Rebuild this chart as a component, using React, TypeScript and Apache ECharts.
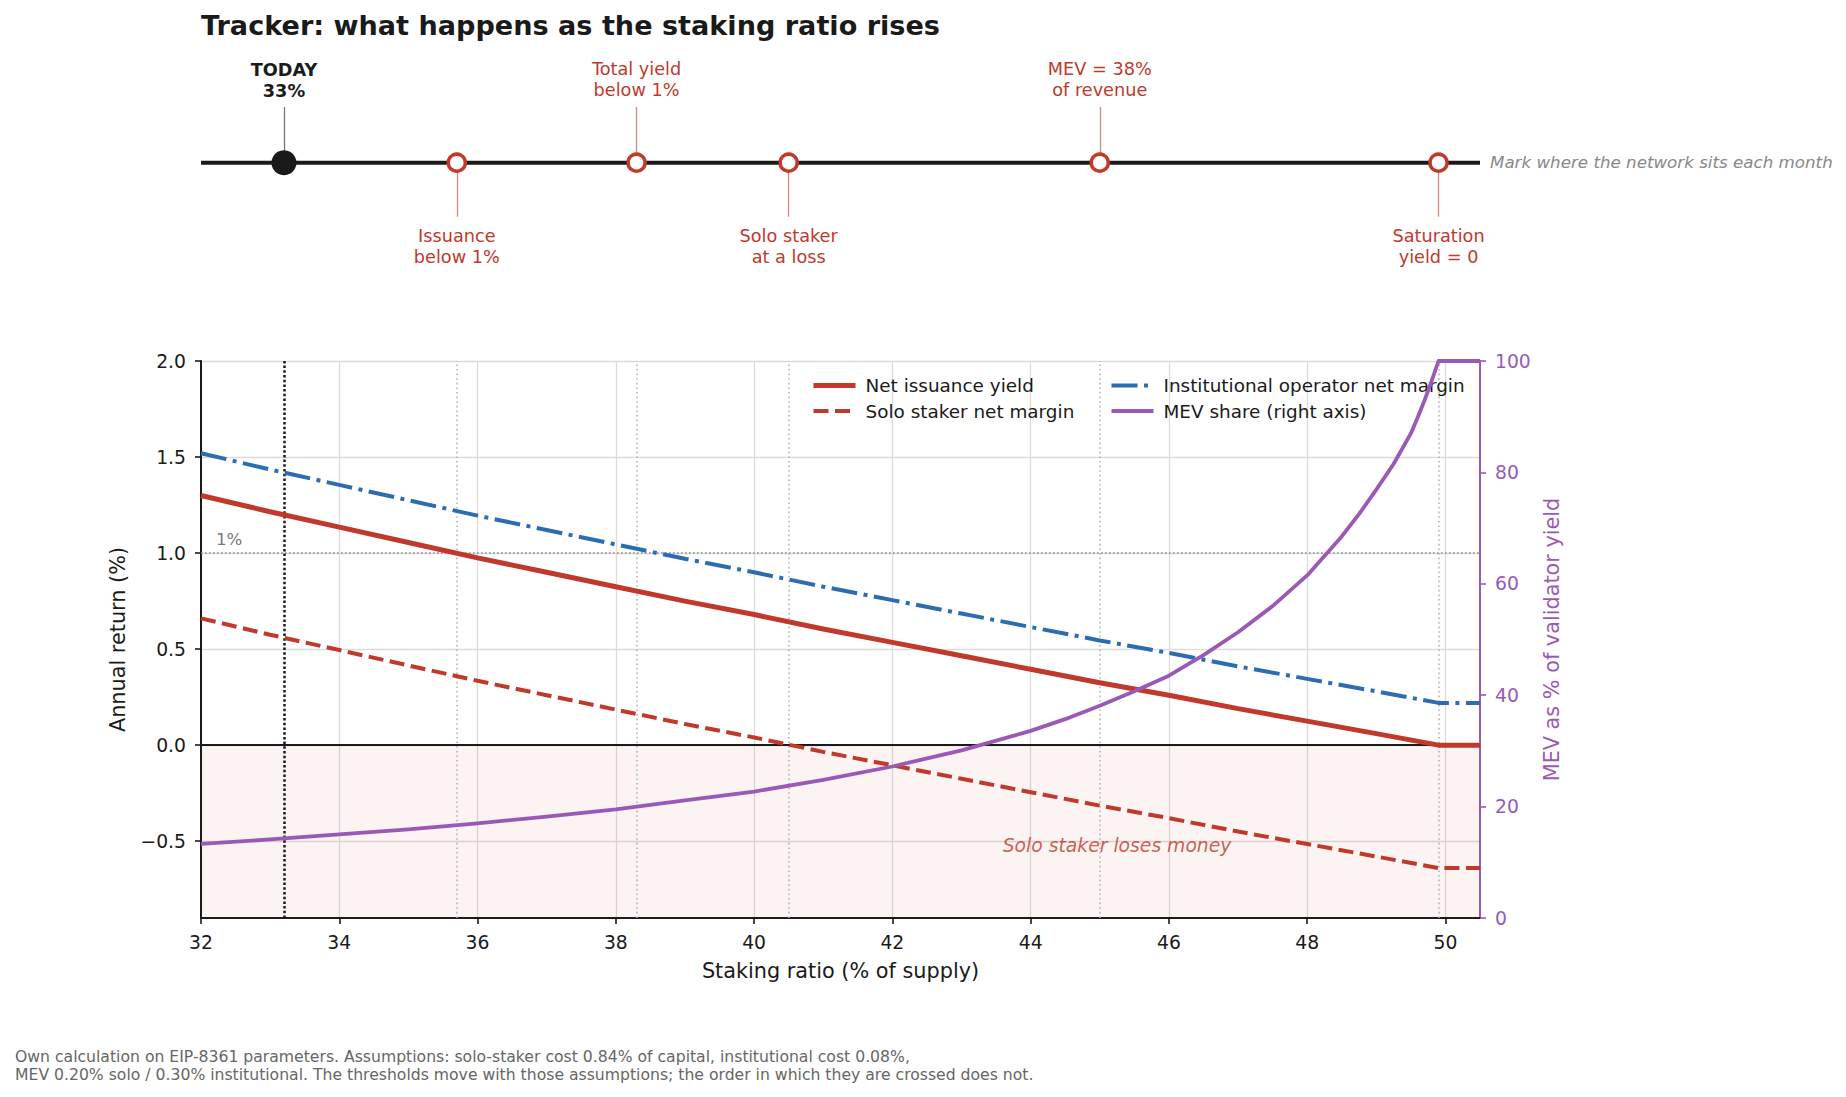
import React, { useEffect, useRef } from "react";
import * as echarts from "echarts";

// ---- data ----
const ratioX = [32, 33, 34, 35, 36, 37, 38, 39, 40, 41, 42, 43, 44, 45, 46, 47, 48, 49, 49.9, 50.5];
const netIssuance = [1.30, 1.215, 1.135, 1.055, 0.975, 0.90, 0.825, 0.75, 0.68, 0.605, 0.535, 0.465, 0.395, 0.325, 0.26, 0.19, 0.125, 0.06, 0.0, 0.0];
const soloMargin = [0.66, 0.575, 0.495, 0.415, 0.335, 0.26, 0.185, 0.11, 0.04, -0.035, -0.105, -0.175, -0.245, -0.315, -0.38, -0.45, -0.515, -0.58, -0.64, -0.64];
const instMargin = [1.52, 1.435, 1.355, 1.275, 1.195, 1.12, 1.045, 0.97, 0.90, 0.825, 0.755, 0.685, 0.615, 0.545, 0.48, 0.41, 0.345, 0.28, 0.22, 0.22];
const mevX = [32, 33, 34, 35, 36, 37, 38, 39, 40, 41, 42, 43, 44, 44.5, 45, 45.5, 46, 46.5, 47, 47.5, 48, 48.25, 48.5, 48.75, 49, 49.25, 49.5, 49.6, 49.7, 49.8, 49.9, 50.5];
const mevShare = [13.3, 14.1, 15.0, 15.9, 17.0, 18.2, 19.5, 21.1, 22.7, 24.8, 27.2, 30.1, 33.6, 35.7, 38.1, 40.7, 43.5, 47.2, 51.3, 56.0, 61.5, 65.0, 68.5, 72.5, 76.9, 81.5, 87.0, 89.9, 93.0, 96.4, 100, 100];

const todayRatio = 33.2;
const todayLabel = "TODAY\n33%";
const thresholdX = [35.7, 38.3, 40.5, 45.0, 49.9];
const thresholdLabels = [
  "Issuance\nbelow 1%",
  "Total yield\nbelow 1%",
  "Solo staker\nat a loss",
  "MEV = 38%\nof revenue",
  "Saturation\nyield = 0",
];
const thresholdAbove = [false, true, false, true, false];

const xTicks = [32, 34, 36, 38, 40, 42, 44, 46, 48, 50];
const yLeftTicks = [-0.5, 0, 0.5, 1, 1.5, 2];
const yRightTicks = [0, 20, 40, 60, 80, 100];
const onePercentLevel = 1.0;
const lossNoteX = 45.25;
const lossNoteY = -0.52;

const seriesNames = [
  "Net issuance yield",
  "Solo staker net margin",
  "Institutional operator net margin",
  "MEV share (right axis)",
];

const titleText = "Tracker: what happens as the staking ratio rises";
const trackerNote = "Mark where the network sits each month";
const lossNote = "Solo staker loses money";
const footnote =
  "Own calculation on EIP-8361 parameters. Assumptions: solo-staker cost 0.84% of capital, institutional cost 0.08%,\nMEV 0.20% solo / 0.30% institutional. The thresholds move with those assumptions; the order in which they are crossed does not.";

// ---- styles ----
const RED = "#c0392b";
const BLUE = "#2b6cb3";
const PURPLE = "#9b59b6";
const INK = "#1a1a1a";
const FONT = "DejaVu Sans";

const zip = (xs: number[], ys: number[]) => xs.map((x, i) => [x, ys[i]]);

const legendBase = {
  orient: "vertical",
  top: 376.5,
  padding: 0,
  itemWidth: 42,
  itemHeight: 20,
  itemGap: 7.5,
  selectedMode: false,
  itemStyle: { color: "transparent", borderColor: "transparent", borderWidth: 0, opacity: 0 },
  lineStyle: { width: "inherit", type: "inherit", color: "inherit", cap: "butt" },
  textStyle: { fontFamily: FONT, fontSize: 18.4, color: INK, padding: [0, 0, 0, 5] },
};

export default function App() {
  const ref = useRef<HTMLDivElement>(null);

  useEffect(() => {
    if (!ref.current) return;
    const chart = echarts.init(ref.current, undefined, { renderer: "svg" });

    const verticalLines: any[] = [
      {
        xAxis: todayRatio,
        lineStyle: { color: INK, width: 2.5, type: [2.5, 2.2], cap: "butt" },
      },
      ...thresholdX.map((x) => ({
        xAxis: x,
        lineStyle: { color: "#b0b0b0", width: 1.5, type: [1.6, 3], cap: "butt" },
      })),
    ];

    const connectors: any[] = [
      [
        { coord: [todayRatio, 0] },
        { coord: [todayRatio, 0.557], lineStyle: { color: "#777", width: 1.3, type: "solid" } },
      ],
      ...thresholdX.map((x, i) => [
        { coord: [x, 0] },
        {
          coord: [x, thresholdAbove[i] ? 0.557 : -0.54],
          lineStyle: { color: "rgba(192,57,43,0.6)", width: 1.3, type: "solid" },
        },
      ]),
    ];

    const option: any = {
      animation: false,
      backgroundColor: "#ffffff",
      textStyle: { fontFamily: FONT },
      title: {
        text: titleText,
        left: 201,
        top: 12,
        padding: 0,
        textStyle: { fontFamily: FONT, fontSize: 27.1, fontWeight: "bold", color: INK },
      },
      legend: [
        { ...legendBase, data: [seriesNames[0], seriesNames[1]], left: 811 },
        { ...legendBase, data: [seriesNames[2], seriesNames[3]], left: 1109.5 },
      ],
      grid: [
        { left: 201, top: 361, width: 1279, height: 557, containLabel: false },
        { left: 201, top: 62.7, width: 1279, height: 200, containLabel: false },
      ],
      xAxis: [
        {
          type: "value",
          gridIndex: 0,
          min: 32,
          max: 50.5,
          name: "Staking ratio (% of supply)",
          nameLocation: "middle",
          nameGap: 42,
          nameTextStyle: { fontFamily: FONT, fontSize: 20.8, color: INK },
          axisLine: { show: true, onZero: false, lineStyle: { color: INK, width: 2 } },
          axisTick: { show: true, length: 6, lineStyle: { color: INK, width: 1.6 }, customValues: xTicks },
          axisLabel: {
            customValues: xTicks,
            fontFamily: FONT,
            fontSize: 18.75,
            color: INK,
            margin: 15,
            formatter: (v: number) => String(v),
          },
          splitLine: { show: true, lineStyle: { color: "#dcdcdc", width: 1.3 } },
        },
        {
          type: "value",
          gridIndex: 1,
          min: 32,
          max: 50.5,
          show: false,
        },
      ],
      yAxis: [
        {
          type: "value",
          gridIndex: 0,
          position: "left",
          min: -0.9,
          max: 2.0,
          name: "Annual return (%)",
          nameLocation: "middle",
          nameRotate: 90,
          nameGap: 73,
          nameTextStyle: { fontFamily: FONT, fontSize: 20.8, color: INK },
          axisLine: { show: true, onZero: false, lineStyle: { color: INK, width: 2 } },
          axisTick: { show: true, length: 6, lineStyle: { color: INK, width: 1.6 }, customValues: yLeftTicks },
          axisLabel: {
            customValues: yLeftTicks,
            fontFamily: FONT,
            fontSize: 18.75,
            color: INK,
            margin: 15,
            formatter: (v: number) => v.toFixed(1).replace("-", "\u2212"),
          },
          splitLine: { show: true, lineStyle: { color: "#dcdcdc", width: 1.3 } },
        },
        {
          type: "value",
          gridIndex: 0,
          position: "right",
          min: 0,
          max: 100,
          name: "MEV as % of validator yield",
          nameLocation: "middle",
          nameRotate: 90,
          nameGap: 60,
          nameTextStyle: { fontFamily: FONT, fontSize: 20.8, color: PURPLE },
          axisLine: { show: true, onZero: false, lineStyle: { color: PURPLE, width: 2 } },
          axisTick: { show: true, length: 6, lineStyle: { color: PURPLE, width: 1.6 }, customValues: yRightTicks },
          axisLabel: {
            customValues: yRightTicks,
            fontFamily: FONT,
            fontSize: 18.75,
            color: PURPLE,
            margin: 15,
          },
          splitLine: { show: false },
        },
        {
          type: "value",
          gridIndex: 1,
          min: -1,
          max: 1,
          show: false,
        },
      ],
      series: [
        {
          name: "_reference",
          type: "line",
          xAxisIndex: 0,
          yAxisIndex: 0,
          data: [],
          silent: true,
          markArea: {
            silent: true,
            z: 1,
            itemStyle: { color: "rgba(192,57,43,0.055)" },
            data: [[{ yAxis: -0.9 }, { yAxis: 0 }]],
          },
          markLine: {
            silent: true,
            z: 3,
            symbol: ["none", "none"],
            label: { show: false },
            data: [
              ...verticalLines,
              {
                yAxis: onePercentLevel,
                lineStyle: { color: "#8a8a8a", width: 1.6, type: [1.6, 2.4], cap: "butt" },
                label: {
                  show: true,
                  position: "insideStartTop",
                  formatter: "1%",
                  color: "#7a7a7a",
                  fontFamily: FONT,
                  fontSize: 16.7,
                  distance: [15, 6],
                },
              },
              {
                yAxis: 0,
                lineStyle: { color: INK, width: 2, type: "solid" },
              },
            ],
          },
        },
        {
          name: seriesNames[0],
          type: "line",
          xAxisIndex: 0,
          yAxisIndex: 0,
          data: zip(ratioX, netIssuance),
          symbol: "none",
          z: 6,
          itemStyle: { color: RED },
          lineStyle: { color: RED, width: 5 },
        },
        {
          name: seriesNames[1],
          type: "line",
          xAxisIndex: 0,
          yAxisIndex: 0,
          data: zip(ratioX, soloMargin),
          symbol: "none",
          z: 6,
          itemStyle: { color: RED },
          lineStyle: { color: RED, width: 4, type: [15, 6.5], cap: "butt" },
        },
        {
          name: seriesNames[2],
          type: "line",
          xAxisIndex: 0,
          yAxisIndex: 0,
          data: zip(ratioX, instMargin),
          symbol: "none",
          z: 6,
          itemStyle: { color: BLUE },
          lineStyle: { color: BLUE, width: 4, type: [26, 6.5, 4, 6.5], cap: "butt" },
        },
        {
          name: seriesNames[3],
          type: "line",
          xAxisIndex: 0,
          yAxisIndex: 1,
          data: zip(mevX, mevShare),
          symbol: "none",
          z: 7,
          itemStyle: { color: PURPLE },
          lineStyle: { color: PURPLE, width: 3.8, join: "round" },
        },
        {
          name: "_lossNote",
          type: "scatter",
          xAxisIndex: 0,
          yAxisIndex: 0,
          data: [[lossNoteX, lossNoteY]],
          symbolSize: 1,
          silent: true,
          z: 8,
          itemStyle: { color: "transparent" },
          label: {
            show: true,
            position: "inside",
            formatter: lossNote,
            color: RED,
            fontFamily: FONT,
            fontStyle: "italic",
            fontSize: 18.75,
          },
        },
        {
          name: "_trackerLine",
          type: "line",
          xAxisIndex: 1,
          yAxisIndex: 2,
          data: [
            [32, 0],
            [50.5, 0],
          ],
          symbol: "none",
          silent: true,
          z: 3,
          lineStyle: { color: INK, width: 4 },
          markLine: {
            silent: true,
            z: 2,
            symbol: ["none", "none"],
            label: { show: false },
            data: connectors,
          },
        },
        {
          name: "_thresholds",
          type: "scatter",
          xAxisIndex: 1,
          yAxisIndex: 2,
          silent: true,
          z: 10,
          symbol: "circle",
          symbolSize: 17,
          itemStyle: { color: "#ffffff", borderColor: RED, borderWidth: 3.5, opacity: 1 },
          data: thresholdX.map((x, i) => ({
            value: [x, 0],
            label: {
              show: true,
              position: thresholdAbove[i] ? "top" : "bottom",
              distance: thresholdAbove[i] ? 51.5 : 52,
              formatter: thresholdLabels[i],
            },
          })),
          label: {
            show: true,
            color: RED,
            fontFamily: FONT,
            fontSize: 17.7,
            lineHeight: 21.5,
            align: "center",
          },
        },
        {
          name: "_today",
          type: "scatter",
          xAxisIndex: 1,
          yAxisIndex: 2,
          silent: true,
          z: 11,
          symbol: "circle",
          symbolSize: 25,
          itemStyle: { color: INK, opacity: 1 },
          data: [[todayRatio, 0]],
          label: {
            show: true,
            position: "top",
            distance: 48,
            formatter: todayLabel,
            color: INK,
            fontFamily: FONT,
            fontWeight: "bold",
            fontSize: 17.7,
            lineHeight: 21.5,
            align: "center",
          },
        },
      ],
      graphic: [
        {
          type: "text",
          left: 1490,
          top: 153,
          silent: true,
          style: {
            text: trackerNote,
            fill: "#888888",
            font: `italic 16.7px "${FONT}"`,
          },
        },
        {
          type: "text",
          left: 15,
          top: 1047,
          silent: true,
          style: {
            text: footnote,
            fill: "#666666",
            font: `15.65px "${FONT}"`,
            lineHeight: 18,
          },
        },
      ],
    };

    chart.setOption(option);
    return () => chart.dispose();
  }, []);

  return (
    <div
      ref={ref}
      style={{ position: "absolute", left: 0, top: 0, width: 1846, height: 1097, background: "#fff" }}
    />
  );
}
